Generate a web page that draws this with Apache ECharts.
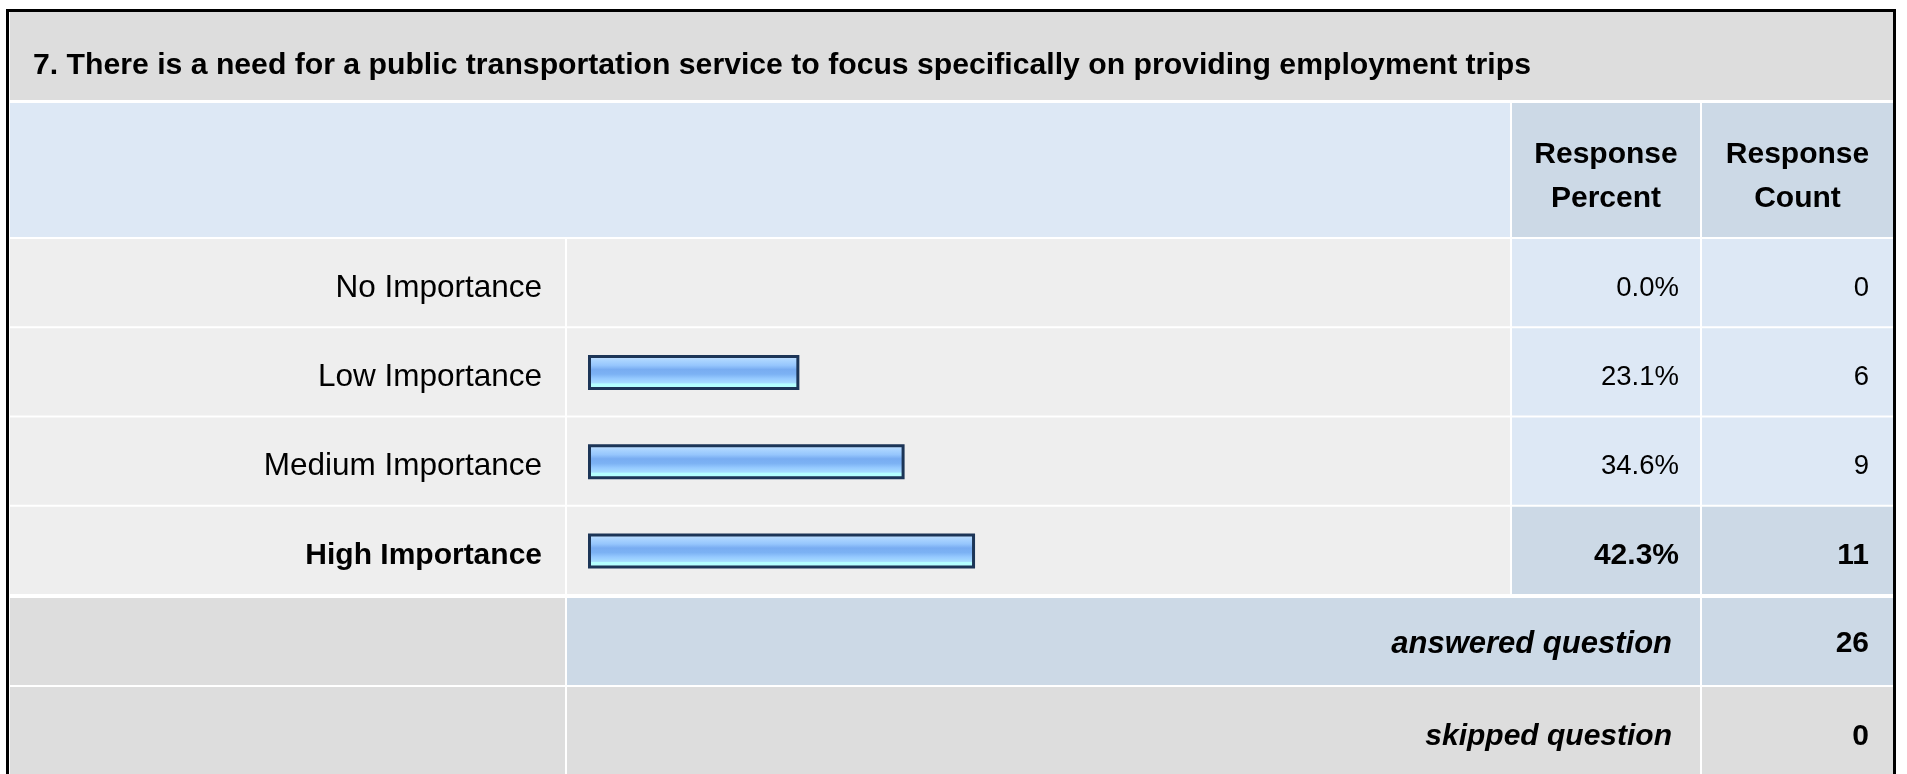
<!DOCTYPE html>
<html>
<head>
<meta charset="utf-8">
<script src="https://cdn.jsdelivr.net/npm/echarts@6/dist/echarts.min.js"></script>
<style>
  html, body { margin: 0; padding: 0; background: #fff; }
  #chart { width: 1907px; height: 774px; }
</style>
</head>
<body>
<div id="chart"></div>
<script>
// ---- data ----
const questionTitle = '7. There is a need for a public transportation service to focus specifically on providing employment trips';
const categories = ['No Importance', 'Low Importance', 'Medium Importance', 'High Importance'];
const percents = [0.0, 23.1, 34.6, 42.3];
const counts = [0, 6, 9, 11];
const headerPercent = ['Response', 'Percent'];
const headerCount = ['Response', 'Count'];
const summaryLabels = ['answered question', 'skipped question'];
const summaryValues = [26, 0];

// ---- layout ----
const FONT = '"Liberation Sans", Arial, sans-serif';
const FS = 30;
const colX = [10, 565, 567, 1510, 1512, 1700, 1702, 1893];
const rowStart = 239, rowPitch = 89.25, rowH = 87.25;
const highlight = percents.indexOf(Math.max.apply(null, percents));

const C_TITLE = '#dddddd', C_HEAD = '#dde8f5', C_HEAD2 = '#ccd9e6', C_ROW = '#eeeeee', C_CELL = '#dde8f5';

const els = [];
function rect(x1, y1, x2, y2, color) {
  els.push({ type: 'rect', z: 0, silent: true, shape: { x: x1, y: y1, width: x2 - x1, height: y2 - y1 }, style: { fill: color } });
}
function text(x, y, str, align, font) {
  els.push({ type: 'text', z: 20, silent: true, x: x, y: y,
    style: { text: str, textAlign: align, textVerticalAlign: 'middle', font: font, fill: '#000' } });
}
// title row
rect(colX[0], 12, colX[7], 100, C_TITLE);
// header row
rect(colX[0], 103, colX[3], 237, C_HEAD);
rect(colX[4], 103, colX[5], 237, C_HEAD2);
rect(colX[6], 103, colX[7], 237, C_HEAD2);
// data rows
categories.forEach(function (c, i) {
  const t = rowStart + i * rowPitch, b = t + rowH;
  const cc = i === highlight ? C_HEAD2 : C_CELL;
  rect(colX[0], t, colX[1], b, C_ROW);
  rect(colX[2], t, colX[3], b, C_ROW);
  rect(colX[4], t, colX[5], b, cc);
  rect(colX[6], t, colX[7], b, cc);
});
// summary rows
rect(colX[0], 598, colX[1], 685, C_TITLE);
rect(colX[2], 598, colX[5], 685, C_HEAD2);
rect(colX[6], 598, colX[7], 685, C_HEAD2);
rect(colX[0], 687, colX[1], 780, C_TITLE);
rect(colX[2], 687, colX[5], 780, C_TITLE);
rect(colX[6], 687, colX[7], 780, C_TITLE);
// outer frame
els.push({ type: 'rect', z: 30, silent: true, shape: { x: 7.5, y: 10.5, width: 1887, height: 900 },
  style: { fill: 'none', stroke: '#000', lineWidth: 3 } });

// texts
text(33, 66, questionTitle, 'left', 'bold 30.2px ' + FONT);
text(1606, 155, headerPercent[0], 'center', 'bold ' + FS + 'px ' + FONT);
text(1606, 199, headerPercent[1], 'center', 'bold ' + FS + 'px ' + FONT);
text(1797.5, 155, headerCount[0], 'center', 'bold ' + FS + 'px ' + FONT);
text(1797.5, 199, headerCount[1], 'center', 'bold ' + FS + 'px ' + FONT);
text(1672, 644, summaryLabels[0], 'right', 'italic bold 31px ' + FONT);
text(1869, 644, String(summaryValues[0]), 'right', 'bold ' + FS + 'px ' + FONT);
text(1672, 737, summaryLabels[1], 'right', 'italic bold ' + FS + 'px ' + FONT);
text(1869, 737, String(summaryValues[1]), 'right', 'bold ' + FS + 'px ' + FONT);

const gridTop = rowStart - 0.5, gridH = rowPitch * categories.length;
function catAxis(gridIndex, formatter, margin, size) {
  return {
    type: 'category', gridIndex: gridIndex, data: categories, inverse: true, z: 10,
    axisLine: { show: false }, axisTick: { show: false }, splitLine: { show: false },
    axisLabel: { margin: margin, fontSize: size, fontFamily: FONT, color: '#000', padding: [10, 0, 0, 0],
      rich: { b: { fontWeight: 'bold', fontSize: FS, fontFamily: FONT, color: '#000' } },
      formatter: formatter }
  };
}
const chart = echarts.init(document.getElementById('chart'), null, { renderer: 'canvas' });
chart.setOption({
  backgroundColor: '#ffffff',
  animation: false,
  graphic: { elements: els },
  grid: [
    { left: 588, top: gridTop, width: 915, height: gridH, containLabel: false },
    { left: 1679, top: gridTop, width: 2, height: gridH, containLabel: false },
    { left: 1869, top: gridTop, width: 2, height: gridH, containLabel: false }
  ],
  xAxis: [
    { type: 'value', gridIndex: 0, min: 0, max: 100, show: false },
    { type: 'value', gridIndex: 1, min: 0, max: 1, show: false },
    { type: 'value', gridIndex: 2, min: 0, max: 1, show: false }
  ],
  yAxis: [
    catAxis(0, function (v, i) { return i === highlight ? '{b|' + v + '}' : v; }, 46, 31.5),
    catAxis(1, function (v, i) { const s = percents[i].toFixed(1) + '%'; return i === highlight ? '{b|' + s + '}' : s; }, 0, 27.5),
    catAxis(2, function (v, i) { const s = String(counts[i]); return i === highlight ? '{b|' + s + '}' : s; }, 0, 27.5)
  ],
  series: [{
    type: 'bar', xAxisIndex: 0, yAxisIndex: 0, z: 10,
    data: percents.map(function (v) { return v > 0 ? v : { value: v, itemStyle: { borderWidth: 0, opacity: 0 } }; }),
    barWidth: 35,
    itemStyle: {
      borderColor: '#1c3557', borderWidth: 3,
      color: new echarts.graphic.LinearGradient(0, 0, 0, 1, [
        { offset: 0, color: '#cfe7ff' },
        { offset: 0.15, color: '#acd5ff' },
        { offset: 0.3, color: '#96c6fd' },
        { offset: 0.42, color: '#78acf1' },
        { offset: 0.55, color: '#7cb2f4' },
        { offset: 0.68, color: '#96caff' },
        { offset: 0.8, color: '#a6dcff' },
        { offset: 0.83, color: '#b4ffff' },
        { offset: 1, color: '#b4ffff' }
      ])
    },
    emphasis: { disabled: true }
  }]
});
</script>
</body>
</html>
